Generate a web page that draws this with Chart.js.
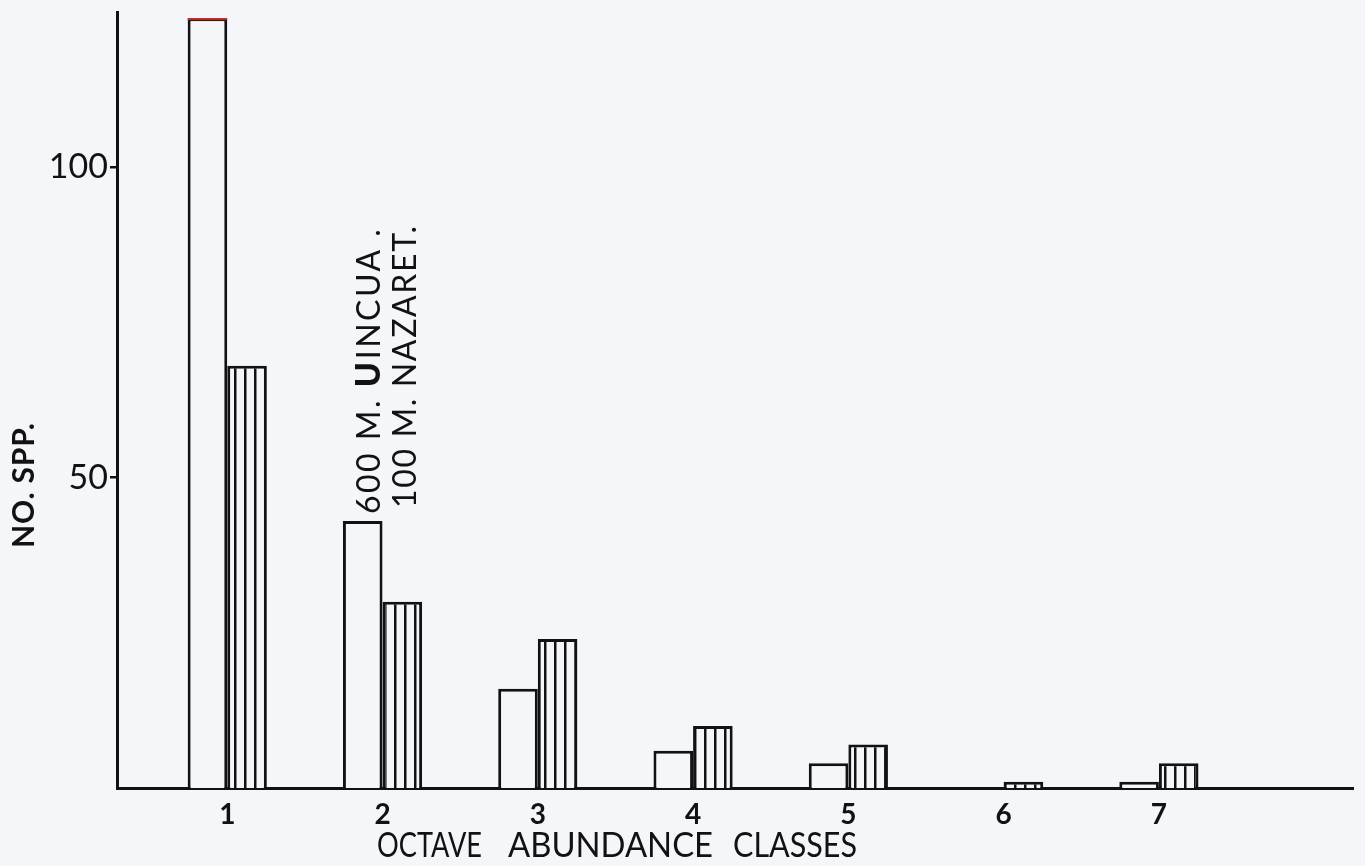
<!DOCTYPE html>
<html>
<head>
<meta charset="utf-8">
<title>Octave abundance classes</title>
<script src="https://cdn.jsdelivr.net/npm/chart.js@4.4.1/dist/chart.umd.min.js"></script>
<style>
  html, body { margin:0; padding:0; background:#f4f6f9; }
  #wrap { width:1365px; height:866px; position:relative; }
</style>
</head>
<body>
<div id="wrap"><canvas id="chart"></canvas></div>
<script>
'use strict';

// octave classes on the x axis
let classes=[1,2,3,4,5,6,7];
let xTickLabels=['1','2','3','4','5','6','7'];
// no. of species per class
let uincua600=[124,43,16,6,4,0,1];
let nazaret100=[68,30,24,10,7,1,4];
let yTicks=[50,100];
let yMax=125;
let xMin=0.29;
let xMax=8.25;

let ink='#121212';
let paper='#f4f6f9';

let canvas=document.getElementById('chart');
let ctx=canvas.getContext('2d');

// vertical hatching for the second series
function hatch()
{
    let c=document.createElement('canvas');
    c.width=10;
    c.height=10;
    let g=c.getContext('2d');
    g.fillStyle=paper;
    g.fillRect(0,0,10,10);
    g.fillStyle=ink;
    g.fillRect(4,0,2.5,10);
    return ctx.createPattern(c,'repeat');
}

// spread a string so it covers a given length
function spaced(c,text,width)
{
    c.letterSpacing='0px';
    let w=c.measureText(text).width;
    c.letterSpacing=((width-w)/(text.length-1))+'px';
}

// squeeze a word into a box of the given width
function fitWord(c,text,x,y,width)
{
    c.letterSpacing='0px';
    let w=c.measureText(text).width;
    c.save();
    c.translate(x,y);
    c.scale(width/w,1);
    c.fillText(text,0,0);
    c.restore();
}

let textPlugin={
    id:'texts',
    afterDraw(chart)
    {
        let c=chart.ctx;
        c.save();
        c.fillStyle=ink;
        c.textBaseline='alphabetic';
        c.textAlign='left';

        // x title, wide gaps between the words
        c.font='34px Lato';
        fitWord(c,'OCTAVE',377,857,105);
        fitWord(c,'ABUNDANCE',508,857,205);
        fitWord(c,'CLASSES',733,857,124);

        // y title
        c.save();
        c.translate(34,548);
        c.rotate(-Math.PI/2);
        c.font='bold 30px Lato';
        spaced(c,'NO. SPP.',125);
        c.fillText('NO. SPP.',0,0);
        c.restore();

        // series names over class 2
        c.save();
        c.translate(380,514);
        c.rotate(-Math.PI/2);
        c.font='32px Lato';
        c.letterSpacing='2.5px';
        let x=0;
        c.fillText('600 M. ',x,0);
        x+=c.measureText('600 M. ').width;
        c.font='900 34px Lato';
        c.fillText('U',x,0);
        x+=c.measureText('U').width;
        c.font='32px Lato';
        c.fillText('INCUA .',x,0);
        c.restore();

        c.save();
        c.translate(416,508);
        c.rotate(-Math.PI/2);
        c.font='32px Lato';
        spaced(c,'100 M. NAZARET.',282);
        c.fillText('100 M. NAZARET.',0,0);
        c.restore();

        // the red top edge on the tallest bar
        let el=chart.getDatasetMeta(0).data[0];
        c.strokeStyle='#c8201e';
        c.lineWidth=2;
        c.beginPath();
        c.moveTo(el.x-el.width/2,el.y+1);
        c.lineTo(el.x+el.width/2,el.y+1);
        c.stroke();
        c.restore();
    }
};

let openData=classes.map((v,i)=>({x:v,y:uincua600[i]}));
let hatchData=classes.map((v,i)=>({x:v,y:nazaret100[i]}));

let myChart=new Chart(ctx,{
    type:'bar',
    data:{
        datasets:[{
            label:'600 M. UINCUA.',
            data:openData,
            backgroundColor:paper,
            borderColor:ink,
            borderWidth:3,
            borderSkipped:'bottom'
        },
        {
            label:'100 M. NAZARET.',
            data:hatchData,
            backgroundColor:hatch(),
            borderColor:ink,
            borderWidth:3,
            borderSkipped:'bottom'
        }]
    },
    options:{
        responsive:true,
        maintainAspectRatio:false,
        animation:false,
        layout:{padding:{left:0,right:12,top:12,bottom:0}},
        datasets:{bar:{categoryPercentage:0.51,barPercentage:1}},
        plugins:{
            legend:{display:false},
            tooltip:{enabled:false}
        },
        scales:{
            x:{
                type:'linear',
                min:xMin,
                max:xMax,
                offset:false,
                grid:{display:false,drawTicks:false,offset:false},
                border:{display:true,color:ink,width:3},
                ticks:{
                    stepSize:1,
                    padding:10,
                    color:ink,
                    font:{family:'Lato',size:28,weight:'bold'},
                    callback:(v)=>xTickLabels[classes.indexOf(v)]
                },
                afterBuildTicks:(s)=>{s.ticks=classes.map(v=>({value:v}))},
                afterFit:(s)=>{s.height=78;s.paddingLeft=0;s.paddingRight=0}
            },
            y:{
                min:0,
                max:yMax,
                grid:{drawOnChartArea:false,drawTicks:true,tickLength:7,color:ink,lineWidth:2.5},
                border:{display:true,color:ink,width:3},
                ticks:{
                    padding:2,
                    color:ink,
                    font:{family:'Lato',size:34}
                },
                afterBuildTicks:(s)=>{s.ticks=yTicks.map(v=>({value:v}))},
                afterFit:(s)=>{s.width=117;s.paddingTop=0;s.paddingBottom=0}
            }
        }
    },
    plugins:[textPlugin]
});
</script>
</body>
</html>
